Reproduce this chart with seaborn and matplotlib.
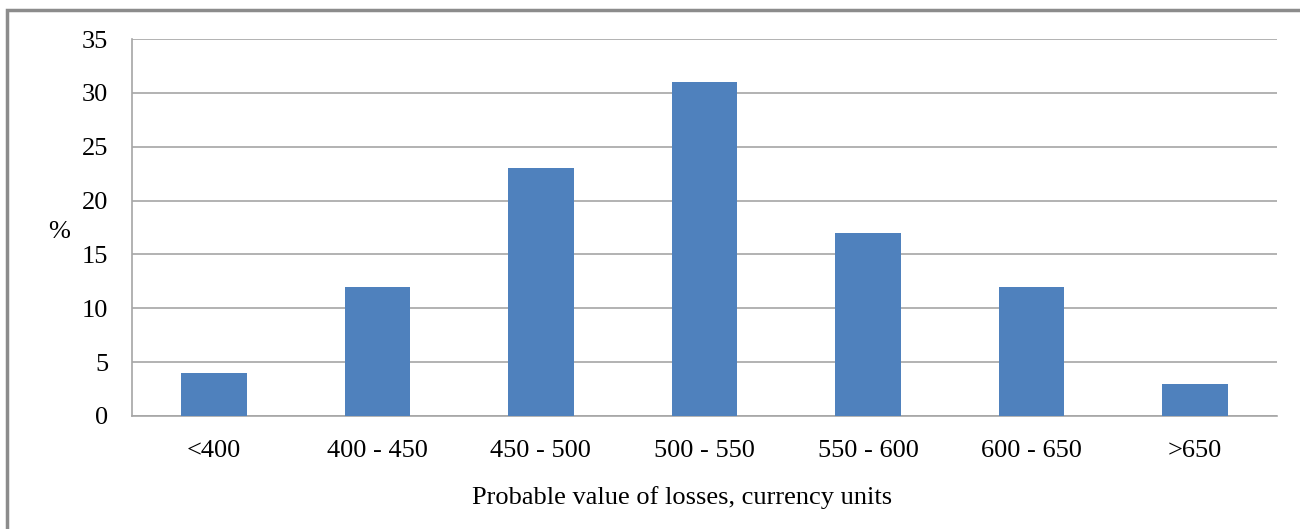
# Distribution of probable losses - bar chart
import matplotlib
matplotlib.use("Agg")
import matplotlib.pyplot as plt
from matplotlib.patches import Rectangle
import seaborn as sns
import pandas as pd

# ---- Data ----
ranges = ["<400", "400 - 450", "450 - 500", "500 - 550", "550 - 600", "600 - 650", ">650"]
percent = [4, 12, 23, 31, 17, 12, 3]
yticks = [0, 5, 10, 15, 20, 25, 30, 35]

df = pd.DataFrame({"range": ranges, "percent": percent})

# ---- Style ----
sns.set_style("white")
plt.rcParams["font.family"] = ["Liberation Serif", "DejaVu Serif"]
plt.rcParams["text.color"] = "black"
grid_col = "#a6a6a6"
fs = 19

fig = plt.figure(figsize=(13, 5.29), dpi=100)
ax = fig.add_axes([132 / 1300, 1 - 416 / 529, (1277 - 132) / 1300, (416 - 39) / 529])

sns.barplot(data=df, x="range", y="percent", color="#4f81bd", width=0.4,
            saturation=1, ax=ax, zorder=3, edgecolor="none")

# ---- Axes ----
ax.set_xlim(-0.5, len(ranges) - 0.5)
ax.set_ylim(0, 35)
ax.set_yticks(yticks)
ax.yaxis.grid(True, color=grid_col, linewidth=1.2, zorder=0)
for s in ["top", "right"]:
    ax.spines[s].set_visible(False)
for s in ["left", "bottom"]:
    ax.spines[s].set_color(grid_col)
    ax.spines[s].set_linewidth(1.2)

# category boundary ticks on x, outward ticks on y
ax.set_xticks([i - 0.5 for i in range(len(ranges) + 1)], minor=True)
ax.tick_params(axis="x", which="minor", length=6, width=1.2, color=grid_col, direction="out")
ax.tick_params(axis="x", which="major", length=0, labelsize=fs, pad=17, labelcolor="black")
ax.tick_params(axis="y", length=8, width=1.2, color=grid_col, labelsize=fs, pad=9, labelcolor="black")

ax.set_xlabel("Probable value of losses, currency units", fontsize=fs, color="black",
              va="center", ha="center")
ax.xaxis.set_label_coords(0.48, -0.215)
ax.set_ylabel("%", fontsize=fs, rotation=0, color="black", va="center", ha="center")
ax.yaxis.set_label_coords(-0.064, 0.487)

# outer frame around the chart
fig.patches.append(Rectangle((7 / 1300, -0.1), 1.2, 1 - 10 / 529 + 0.1,
                             transform=fig.transFigure, fill=False,
                             edgecolor="#8c8c8c", linewidth=2.5))

fig.savefig("out.png", dpi=100)
